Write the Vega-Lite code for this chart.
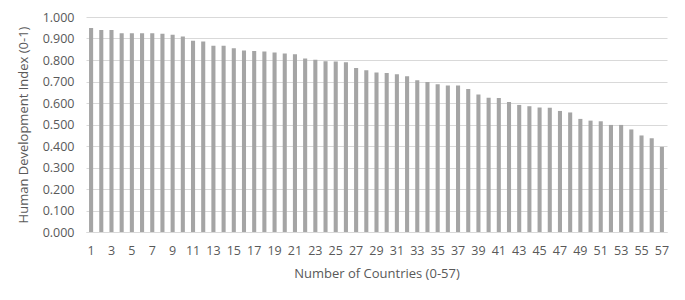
{
  "$schema": "https://vega.github.io/schema/vega-lite/v6.json",
  "autosize": {"type": "none"},
  "width": 581,
  "height": 215,
  "padding": {"left": 86, "top": 17, "right": 18, "bottom": 68},
  "background": "white",
  "config": {
    "view": {"stroke": null},
    "font": "Open Sans"
  },
  "data": {
    "values": [
      {"country": 1, "hdi": 0.949},
      {"country": 2, "hdi": 0.939},
      {"country": 3, "hdi": 0.939},
      {"country": 4, "hdi": 0.925},
      {"country": 5, "hdi": 0.925},
      {"country": 6, "hdi": 0.925},
      {"country": 7, "hdi": 0.924},
      {"country": 8, "hdi": 0.922},
      {"country": 9, "hdi": 0.918},
      {"country": 10, "hdi": 0.909},
      {"country": 11, "hdi": 0.889},
      {"country": 12, "hdi": 0.886},
      {"country": 13, "hdi": 0.866},
      {"country": 14, "hdi": 0.866},
      {"country": 15, "hdi": 0.855},
      {"country": 16, "hdi": 0.844},
      {"country": 17, "hdi": 0.842},
      {"country": 18, "hdi": 0.839},
      {"country": 19, "hdi": 0.835},
      {"country": 20, "hdi": 0.830},
      {"country": 21, "hdi": 0.827},
      {"country": 22, "hdi": 0.807},
      {"country": 23, "hdi": 0.801},
      {"country": 24, "hdi": 0.794},
      {"country": 25, "hdi": 0.793},
      {"country": 26, "hdi": 0.790},
      {"country": 27, "hdi": 0.763},
      {"country": 28, "hdi": 0.752},
      {"country": 29, "hdi": 0.742},
      {"country": 30, "hdi": 0.740},
      {"country": 31, "hdi": 0.734},
      {"country": 32, "hdi": 0.725},
      {"country": 33, "hdi": 0.706},
      {"country": 34, "hdi": 0.698},
      {"country": 35, "hdi": 0.687},
      {"country": 36, "hdi": 0.681},
      {"country": 37, "hdi": 0.681},
      {"country": 38, "hdi": 0.665},
      {"country": 39, "hdi": 0.639},
      {"country": 40, "hdi": 0.624},
      {"country": 41, "hdi": 0.623},
      {"country": 42, "hdi": 0.605},
      {"country": 43, "hdi": 0.591},
      {"country": 44, "hdi": 0.585},
      {"country": 45, "hdi": 0.579},
      {"country": 46, "hdi": 0.578},
      {"country": 47, "hdi": 0.563},
      {"country": 48, "hdi": 0.556},
      {"country": 49, "hdi": 0.526},
      {"country": 50, "hdi": 0.518},
      {"country": 51, "hdi": 0.515},
      {"country": 52, "hdi": 0.498},
      {"country": 53, "hdi": 0.498},
      {"country": 54, "hdi": 0.477},
      {"country": 55, "hdi": 0.449},
      {"country": 56, "hdi": 0.436},
      {"country": 57, "hdi": 0.396}
    ]
  },
  "mark": {"type": "bar", "color": "#A5A5A5"},
  "encoding": {
    "x": {
      "field": "country",
      "type": "ordinal",
      "scale": {"paddingInner": 0.6, "paddingOuter": 0.3},
      "axis": {
        "title": "Number of Countries (0-57)",
        "titleFont": "Open Sans",
        "titleFontSize": 13,
        "titleFontWeight": "normal",
        "titleColor": "#595959",
        "titlePadding": 11,
        "labelAngle": 0,
        "labelFontSize": 12.5,
        "labelColor": "#595959",
        "labelPadding": 12,
        "values": [1,3,5,7,9,11,13,15,17,19,21,23,25,27,29,31,33,35,37,39,41,43,45,47,49,51,53,55,57],
        "ticks": false,
        "domainColor": "#D9D9D9",
        "domainWidth": 1,
        "grid": false
      }
    },
    "y": {
      "field": "hdi",
      "type": "quantitative",
      "scale": {"domain": [0, 1], "nice": false},
      "axis": {
        "title": "Human Development Index (0-1)",
        "titleFont": "Open Sans",
        "titleFontSize": 13,
        "titleFontWeight": "normal",
        "titleColor": "#595959",
        "titlePadding": 12,
        "format": ".3f",
        "values": [0, 0.1, 0.2, 0.3, 0.4, 0.5, 0.6, 0.7, 0.8, 0.9, 1.0],
        "labelFontSize": 12.5,
        "labelColor": "#595959",
        "labelPadding": 12,
        "ticks": false,
        "domain": false,
        "grid": true,
        "gridColor": "#D9D9D9",
        "gridWidth": 1
      }
    }
  }
}
